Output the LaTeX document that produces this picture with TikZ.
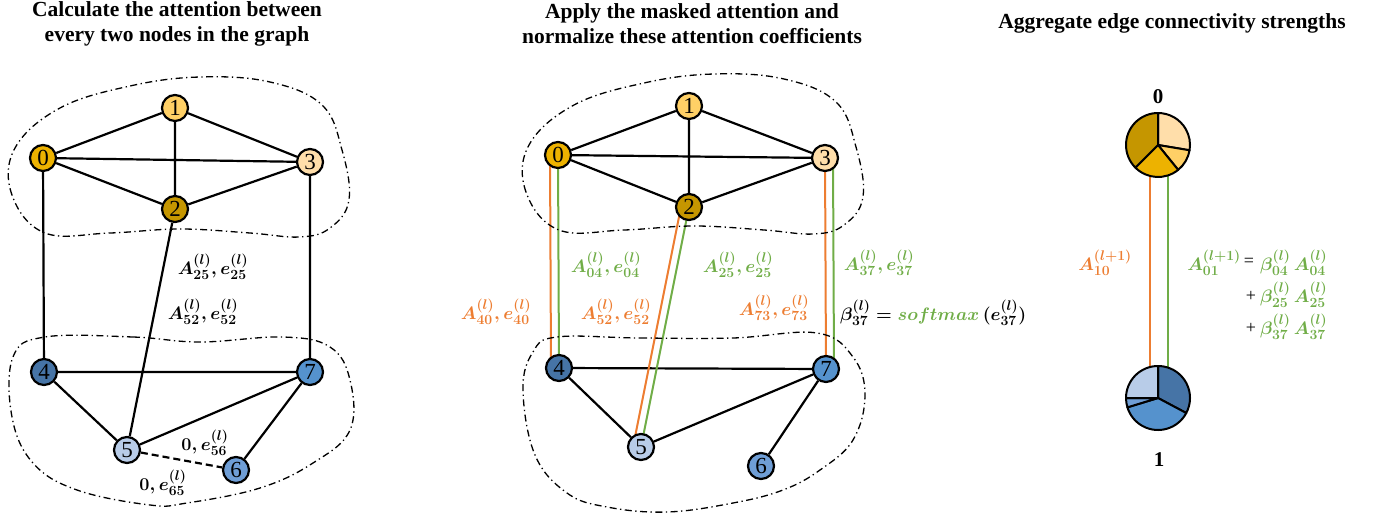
\RequirePackage{fix-cm}
\documentclass[tikz,border=0pt]{standalone}
\usepackage[no-math]{fontspec}
\setmainfont{Liberation Serif}
\usepackage{amsmath}
\usetikzlibrary{backgrounds}
\DeclareMathSizes{18}{18}{14}{11}
\definecolor{cA}{HTML}{EDB200}
\definecolor{cB}{HTML}{FFD066}
\definecolor{cC}{HTML}{C59600}
\definecolor{cD}{HTML}{FFDEAA}
\definecolor{cE}{HTML}{4674A6}
\definecolor{cF}{HTML}{B8CCE8}
\definecolor{cG}{HTML}{6F9ED6}
\definecolor{cH}{HTML}{5592CD}
\definecolor{orn}{HTML}{ED7D31}
\definecolor{grn}{HTML}{70AD47}
\begin{document}
\begin{tikzpicture}[x=1pt,y=-1pt,
  gn/.style={circle,draw,line width=2.2pt,minimum size=26pt,inner sep=0pt,font=\fontsize{23}{23}\selectfont},
  ed/.style={line width=2.2pt},
  blob/.style={line width=1.3pt,dash pattern=on 7pt off 3.5pt on 1.3pt off 3.5pt},
  lb/.style={font=\fontsize{18}{18}\selectfont\boldmath,inner sep=0pt},
  ttl/.style={font=\fontsize{21.5}{25}\selectfont\bfseries,align=center},
  col/.style={line width=2pt},
  slice/.style={line width=2pt,line join=round},
  plab/.style={font=\fontsize{21}{21}\selectfont\bfseries},
  opst/.style={font=\fontsize{18}{18}\selectfont,inner sep=0pt}]
\useasboundingbox (0,0) rectangle (1375,516);

% titles
\node[ttl] (t1) at (177,23.5) {Calculate the attention between\\every two nodes in the graph};
\node[ttl] (t2) at (692,23.5) {Apply the masked attention and\\normalize these attention coefficients};
\node[ttl] (t3) at (1172,23) {Aggregate edge connectivity strengths};

% ---------- left panel ----------
\node[gn,fill=cA] (a0) at (43,158) {0};
\node[gn,fill=cB] (a1) at (175,108) {1};
\node[gn,fill=cC] (a2) at (175,209) {2};
\node[gn,fill=cD] (a3) at (310,162) {3};
\node[gn,fill=cE] (a4) at (44,372) {4};
\node[gn,fill=cF] (a5) at (127,450) {5};
\node[gn,fill=cG] (a6) at (236,470) {6};
\node[gn,fill=cH] (a7) at (310,372) {7};
\begin{scope}[on background layer]
\draw[ed] (a0)--(a1) (a1)--(a3) (a0)--(a3) (a0)--(a2) (a2)--(a3) (a1)--(a2)
          (a0)--(a4) (a3)--(a7) (a2)--(a5) (a4)--(a7) (a4)--(a5) (a5)--(a7) (a7)--(a6);
\draw[ed,dash pattern=on 7pt off 4pt] (a5)--(a6);
\end{scope}
\draw[blob] plot[smooth cycle,tension=0.65] coordinates {(45,233) (12,195) (15,148) (60,108) (130,86) (200,77) (270,82) (322,105) (342,150) (349,200) (330,228) (300,237) (250,233) (180,229) (110,233)};
\draw[blob] plot[smooth cycle,tension=0.65] coordinates {(45,337) (133,337) (200,342) (283,337) (330,347) (350,380) (350,430) (313,463) (260,488) (187,503) (150,505) (77,490) (33,463) (12,417) (13,357)};
\node[lb] (la) at (213,267) {$A^{(l)}_{25}, e^{(l)}_{25}$};
\node[lb] (lb1) at (203,312) {$A^{(l)}_{52}, e^{(l)}_{52}$};
\node[lb] (lc) at (205,443) {$0, e^{(l)}_{56}$};
\node[lb] (ld) at (163,483) {$0, e^{(l)}_{65}$};

% ---------- middle panel ----------
\node[gn,fill=cA] (b0) at (558,155) {0};
\node[gn,fill=cB] (b1) at (689,106) {1};
\node[gn,fill=cC] (b2) at (689,207) {2};
\node[gn,fill=cD] (b3) at (825,158) {3};
\node[gn,fill=cE] (b4) at (559,368) {4};
\node[gn,fill=cF] (b5) at (641,447) {5};
\node[gn,fill=cG] (b6) at (761,466) {6};
\node[gn,fill=cH] (b7) at (826,369) {7};
\begin{scope}[on background layer]
\draw[ed] (b0)--(b1) (b1)--(b3) (b0)--(b3) (b0)--(b2) (b2)--(b3) (b1)--(b2)
          (b4)--(b7) (b4)--(b5) (b5)--(b7) (b7)--(b6);
\draw[col,orn] ([xshift=-8pt]b0.center) -- ([xshift=-8pt]b4.center);
\draw[col,grn] (b0.center) -- (b4.center);
\draw[col,orn] ([xshift=-8pt]b2.center) -- ([xshift=-8pt]b5.center);
\draw[col,grn] (b2.center) -- (b5.center);
\draw[col,orn] (b3.center) -- (b7.center);
\draw[col,grn] ([xshift=8pt]b3.center) -- ([xshift=8pt]b7.center);
\end{scope}
\begin{scope}[shift={(514,-3)}]
\draw[blob] plot[smooth cycle,tension=0.65] coordinates {(45,233) (12,195) (15,148) (60,108) (130,86) (200,77) (270,82) (322,105) (342,150) (349,200) (330,228) (300,237) (250,233) (180,229) (110,233)};
\end{scope}
\draw[blob] plot[smooth cycle,tension=0.65] coordinates {(557,337) (640,338) (733,338) (817,333) (853,357) (865,395) (853,440) (820,470) (783,490) (733,503) (667,512) (607,507) (567,493) (535,455) (523,390) (533,352)};
\node[lb,text=orn] (m1) at (496,312) {$A^{(l)}_{40}, e^{(l)}_{40}$};
\node[lb,text=grn] (m2) at (606,265) {$A^{(l)}_{04}, e^{(l)}_{04}$};
\node[lb,text=orn] (m3) at (616,312) {$A^{(l)}_{52}, e^{(l)}_{52}$};
\node[lb,text=grn] (m4) at (738,265) {$A^{(l)}_{25}, e^{(l)}_{25}$};
\node[lb,text=orn] (m5) at (774,308) {$A^{(l)}_{73}, e^{(l)}_{73}$};
\node[lb,text=grn] (m6) at (879,263) {$A^{(l)}_{37}, e^{(l)}_{37}$};
\node[lb,anchor=west] (m7) at (840,313) {$\beta^{(l)}_{37} = \textcolor{grn}{softmax}\,(e^{(l)}_{37})$};

% ---------- right panel ----------
\node[circle,minimum size=64pt,inner sep=0pt] (p0) at (1158,145) {};
\node[circle,minimum size=64pt,inner sep=0pt] (p1) at (1158,398) {};
\begin{scope}[on background layer]
\draw[col,orn] ([xshift=-8pt]p0.center) -- ([xshift=-8pt]p1.center);
\draw[col,grn] ([xshift=10pt]p0.center) -- ([xshift=10pt]p1.center);
\end{scope}
\begin{scope}[shift={(p0.center)},x=1pt,y=1pt]
\filldraw[slice,fill=cD] (0,0) -- (90:32) arc[start angle=90,end angle=-9.5,radius=32] -- cycle;
\filldraw[slice,fill=cB] (0,0) -- (-9.5:32) arc[start angle=-9.5,end angle=-51,radius=32] -- cycle;
\filldraw[slice,fill=cA] (0,0) -- (-51:32) arc[start angle=-51,end angle=-135,radius=32] -- cycle;
\filldraw[slice,fill=cC] (0,0) -- (-135:32) arc[start angle=-135,end angle=-270,radius=32] -- cycle;
\end{scope}
\begin{scope}[shift={(p1.center)},x=1pt,y=1pt]
\filldraw[slice,fill=cE] (0,0) -- (90:32) arc[start angle=90,end angle=-28,radius=32] -- cycle;
\filldraw[slice,fill=cH] (0,0) -- (-28:32) arc[start angle=-28,end angle=-163,radius=32] -- cycle;
\filldraw[slice,fill=cG] (0,0) -- (-163:32) arc[start angle=-163,end angle=-180,radius=32] -- cycle;
\filldraw[slice,fill=cF] (0,0) -- (-180:32) arc[start angle=-180,end angle=-270,radius=32] -- cycle;
\end{scope}
\node[plab] (q0) at (1158,97) {0};
\node[plab] (q1) at (1159,460) {1};
\node[lb,text=orn] (r0) at (1105,263) {$A^{(l+1)}_{10}$};
\node[lb,text=grn,anchor=east] (r1) at (1241,263) {$A^{(l+1)}_{01}$};
\node[opst] (eq) at (1249,262) {=};
\node[lb,text=grn,anchor=west] (r2) at (1260,263) {$\beta^{(l)}_{04}\,A^{(l)}_{04}$};
\node[opst] (pl2) at (1251,296) {+};
\node[lb,text=grn,anchor=west] (r3) at (1260,295) {$\beta^{(l)}_{25}\,A^{(l)}_{25}$};
\node[opst] (pl3) at (1251,328) {+};
\node[lb,text=grn,anchor=west] (r4) at (1260,327) {$\beta^{(l)}_{37}\,A^{(l)}_{37}$};
\end{tikzpicture}
\end{document}
